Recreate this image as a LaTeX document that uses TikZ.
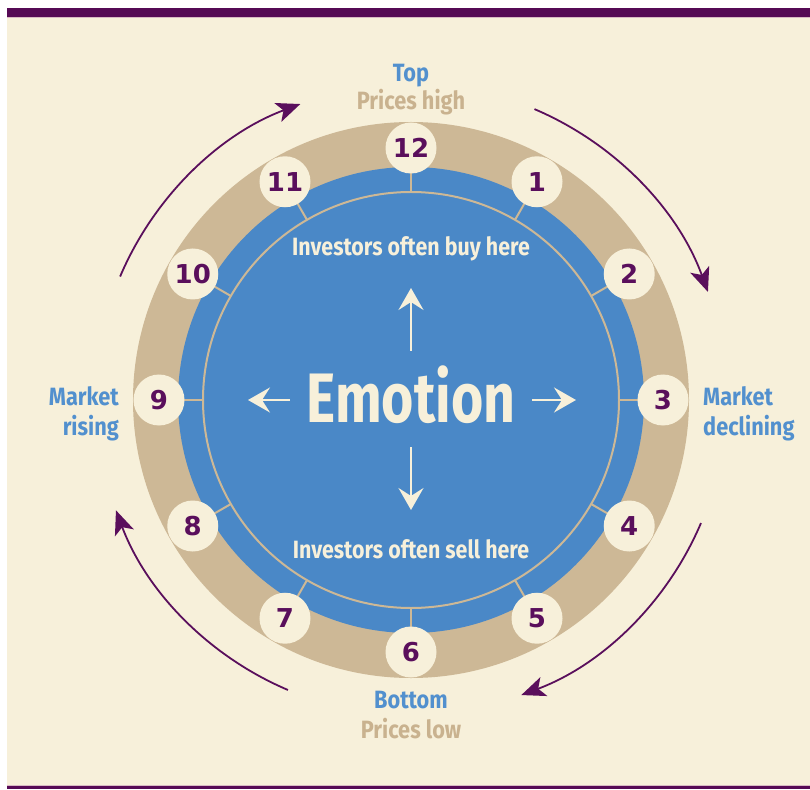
\documentclass[tikz,border=0pt]{standalone}
\usepackage{fontspec}
\newfontfamily\labfont[FakeStretch=0.87]{Fira Sans}
\newfontfamily\infont[FakeStretch=0.855]{Fira Sans}
\newfontfamily\emofont[FakeStretch=0.79]{Fira Sans}
\newfontfamily\numfont{DejaVu Sans}
\usetikzlibrary{arrows.meta}
\definecolor{barpurple}{HTML}{560A55}
\definecolor{barpink}{HTML}{D9B9C4}
\definecolor{cream}{HTML}{F7F0DA}
\definecolor{ringtan}{HTML}{CDB896}
\definecolor{ringblue}{HTML}{4A88C7}
\definecolor{numpurple}{HTML}{5A0F5C}
\definecolor{labblue}{HTML}{5290CE}
\definecolor{labtan}{HTML}{C9B28F}
\tikzset{
  numcircle/.style={circle, fill=cream, minimum size=51pt, inner sep=0pt,
    font=\numfont\bfseries\fontsize{26}{26}\selectfont, text=numpurple},
  tickline/.style={draw=ringtan, line width=2pt},
  outarrow/.style={draw=numpurple, line width=1.8pt,
    -{Stealth[length=24pt,width=20pt,inset=6pt]}},
  inarrow/.style={draw=cream, line width=2pt,
    -{Stealth[length=22pt,width=25pt,inset=8pt]}},
  bluelab/.style={font=\labfont\bfseries\fontsize{25}{30}\selectfont, text=labblue, inner sep=0pt},
  tanlab/.style={font=\labfont\bfseries\fontsize{25}{30}\selectfont, text=labtan, inner sep=0pt},
  innertext/.style={font=\infont\bfseries\fontsize{25}{30}\selectfont, text=cream, inner sep=0pt}
}
\begin{document}
\begin{tikzpicture}[x=1pt,y=1pt]
\useasboundingbox (-411,-389) rectangle (399,400);
\fill[white] (-411,-389) rectangle (399,400);
\fill[cream] (-404,-386) rectangle (399,383);
\fill[barpurple] (-404,383) rectangle (399,392);
\fill[barpink] (-404,382) rectangle (399,383);
\fill[barpink] (-404,-386) rectangle (399,-385.3);
\fill[barpurple] (-404,-389) rectangle (399,-386);
% rings
\fill[ringtan] (0,0) circle (278);
\fill[ringblue] (0,0) circle (233);
\draw[ringtan, line width=2pt] (0,0) circle (208);
% ticks and numbers
\foreach \n in {1,...,12} {
  \pgfmathsetmacro{\ang}{90-30*\n}
  \draw[tickline] (\ang:208) -- (\ang:235);
  \node[numcircle] (num\n) at (\ang:252) {\n};
}
% outer arrows
\coordinate (ra) at (157:316);
\coordinate (rb) at (67:316);
\coordinate (rc) at (-23:315);
\coordinate (rd) at (-113:315);
\draw[outarrow] (ra) arc[start angle=157, end angle=110.5, radius=316];
\draw[outarrow] (rb) arc[start angle=67, end angle=20, radius=316];
\draw[outarrow] (rc) arc[start angle=-23, end angle=-69.5, radius=315];
\draw[outarrow] (rd) arc[start angle=-113, end angle=-159.5, radius=315];
% center
\node[font=\emofont\bfseries\fontsize{70}{70}\selectfont, text=cream, inner sep=0pt, anchor=base] (emo) at (0,-22) {Emotion};
\coordinate (up0) at (0,49);  \coordinate (up1) at (0,112);
\coordinate (dn0) at (0,-47); \coordinate (dn1) at (0,-110);
\coordinate (lf0) at (-121,0); \coordinate (lf1) at (-163,0);
\coordinate (rt0) at (121,0);  \coordinate (rt1) at (165,0);
\draw[inarrow] (up0) -- (up1);
\draw[inarrow] (dn0) -- (dn1);
\draw[inarrow] (lf0) -- (lf1);
\draw[inarrow] (rt0) -- (rt1);
\node[innertext, anchor=base] (buy) at (0,144) {Investors often buy here};
\node[innertext, anchor=base] (sell) at (0,-158) {Investors often sell here};
% outer labels
\node[bluelab, anchor=base] (top) at (0,318) {Top};
\node[tanlab, anchor=base] (phigh) at (0,290) {Prices high};
\node[bluelab, anchor=base] (bottom) at (0,-308) {Bottom};
\node[tanlab, anchor=base] (plow) at (0,-338) {Prices low};
\node[bluelab, anchor=base east] (mr1) at (-292,-5) {Market};
\node[bluelab, anchor=base east] (mr2) at (-292,-35) {rising};
\node[bluelab, anchor=base west] (md1) at (292,-5) {Market};
\node[bluelab, anchor=base west] (md2) at (292,-35) {declining};
\end{tikzpicture}
\end{document}
